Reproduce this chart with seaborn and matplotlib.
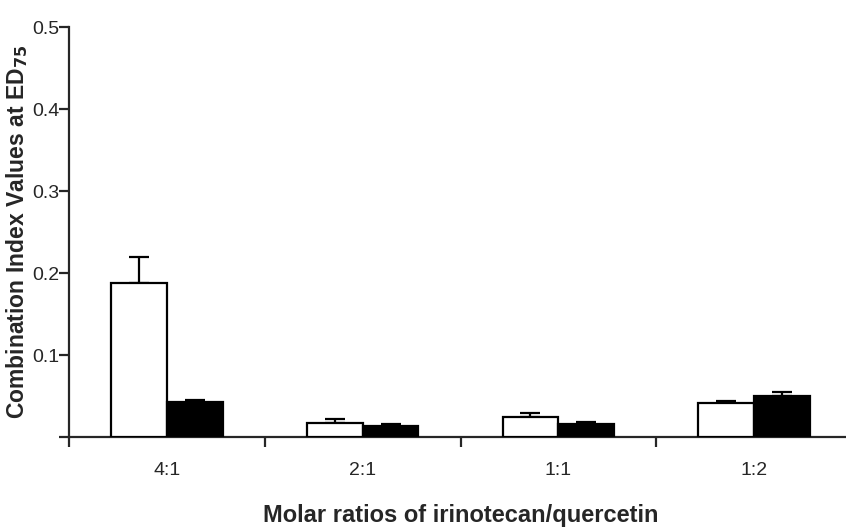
import matplotlib
matplotlib.use("Agg")
import matplotlib.pyplot as plt
import seaborn as sns
import numpy as np
import pandas as pd

# Molar ratio groups and combination index values at ED75
ratios = ["4:1", "2:1", "1:1", "1:2"]
series_names = ["Group 1", "Group 2"]
values_1 = [0.188, 0.017, 0.024, 0.041]
errors_1 = [0.032, 0.005, 0.005, 0.003]
values_2 = [0.043, 0.013, 0.016, 0.050]
errors_2 = [0.002, 0.003, 0.002, 0.005]
y_ticks = [0.1, 0.2, 0.3, 0.4, 0.5]

df = pd.DataFrame({
    "ratio": ratios * 2,
    "ci": values_1 + values_2,
    "err": errors_1 + errors_2,
    "group": [series_names[0]] * 4 + [series_names[1]] * 4,
})

sns.set_style("ticks")
plt.rcParams["font.family"] = ["Liberation Sans", "DejaVu Sans"]
plt.rcParams["mathtext.default"] = "bf"

fig = plt.figure(figsize=(8.46, 5.28), dpi=100)
ax = fig.add_axes([69 / 846, 91 / 528, 783 / 846, 410 / 528])

sns.barplot(data=df, x="ratio", y="ci", hue="group", order=ratios,
            hue_order=series_names, palette=["white", "black"],
            edgecolor="black", linewidth=1.6, width=0.57, errorbar=None,
            legend=False, ax=ax, zorder=3)

# upward-only error bars on top of each bar
for cont, grp in zip(ax.containers, series_names):
    sub = df[df["group"] == grp].set_index("ratio").loc[ratios]
    xs = [p.get_x() + p.get_width() / 2 for p in cont.patches]
    ax.errorbar(xs, sub["ci"].values,
                yerr=[np.zeros(len(xs)), sub["err"].values],
                fmt="none", ecolor="black", elinewidth=1.6, capsize=7,
                capthick=1.6, zorder=2)

ax.set_xlim(-0.5, 3.5)
ax.set_ylim(0, 0.5)
ax.set_yticks([0] + y_ticks)
ax.set_yticklabels([""] + [f"{t:.1f}" for t in y_ticks])

# tick marks between groups, labels at group centres
ax.set_xticks([-0.5, 0.5, 1.5, 2.5])
ax.set_xticklabels([])
ax.set_xticks(range(len(ratios)), minor=True)
ax.set_xticklabels(ratios, minor=True)
ax.tick_params(axis="x", which="minor", length=0, pad=18, labelsize=14)
ax.tick_params(axis="x", which="major", length=7, width=1.6, direction="out")
ax.tick_params(axis="y", length=7, width=1.6, direction="out", pad=0,
               labelsize=14)

for side in ["top", "right"]:
    ax.spines[side].set_visible(False)
for side in ["left", "bottom"]:
    ax.spines[side].set_linewidth(1.6)

ax.set_xlabel("Molar ratios of irinotecan/quercetin", fontsize=17,
              fontweight="bold", labelpad=18)
ax.set_ylabel(r"Combination Index Values at ED$_{75}$", fontsize=16.5,
              fontweight="bold")
ax.yaxis.set_label_coords(-0.050, 0.5)

fig.savefig("out.png", dpi=100)
